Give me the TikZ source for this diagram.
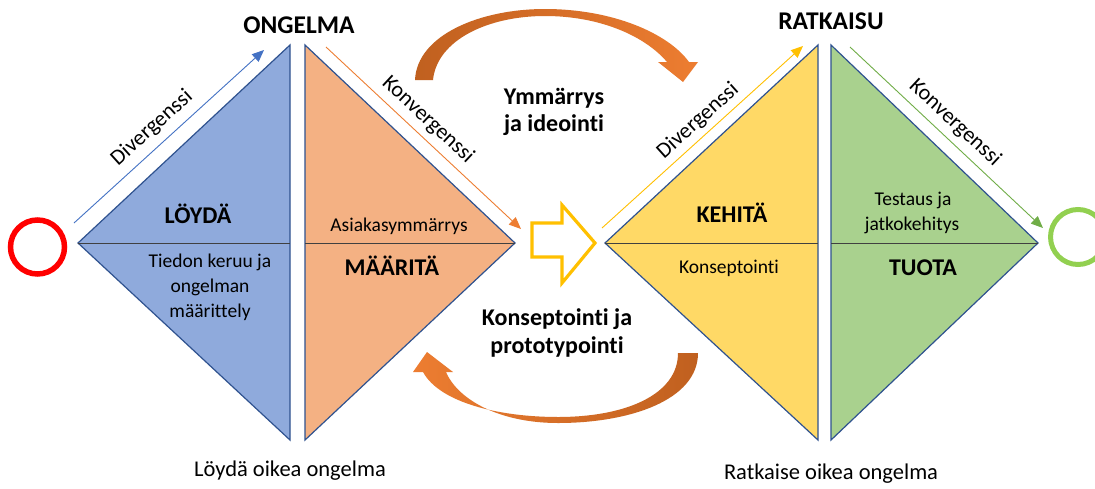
\documentclass[tikz,border=0pt]{standalone}
\usepackage{fontspec}
\setmainfont[Ligatures=NoCommon]{Carlito}
\usetikzlibrary{arrows.meta}
\definecolor{fblue}{HTML}{8FAADC}
\definecolor{forange}{HTML}{F4B183}
\definecolor{fyellow}{HTML}{FFD966}
\definecolor{fgreen}{HTML}{A9D18E}
\definecolor{edge}{HTML}{2F528F}
\definecolor{ablue}{HTML}{4472C4}
\definecolor{aorange}{HTML}{ED7D31}
\definecolor{adark}{HTML}{C0601F}
\definecolor{ayellow}{HTML}{FFC000}
\definecolor{agreen}{HTML}{70AD47}
\definecolor{cgreen}{HTML}{92D050}
\tikzset{
  tri/.style={draw=edge, line width=1.2pt, line join=miter},
  midline/.style={draw=black!75, line width=0.9pt},
  thin arrow/.style={line width=0.9pt, -{Triangle[length=12pt,width=10pt]}},
  head/.style={font=\fontsize{25.5}{25.5}\selectfont\bfseries, anchor=base, inner sep=0},
  big/.style={font=\fontsize{24}{24}\selectfont\bfseries, anchor=base, inner sep=0},
  small/.style={font=\fontsize{19.5}{19.5}\selectfont, anchor=base, inner sep=0},
  side/.style={font=\fontsize{22}{22}\selectfont, inner sep=0},
  foot/.style={font=\fontsize{22.5}{22.5}\selectfont, anchor=base, inner sep=0},
}
\begin{document}
\begin{tikzpicture}[x=1pt,y=-1pt]
\useasboundingbox[fill=white] (0,0) rectangle (1095,488);

% triangles
\coordinate (bL) at (78,243);  \coordinate (bT) at (290,45);  \coordinate (bB) at (290,440);
\coordinate (oT) at (305,45);  \coordinate (oB) at (305,440); \coordinate (oR) at (515,243);
\coordinate (yL) at (605,243); \coordinate (yT) at (818,45);  \coordinate (yB) at (818,440);
\coordinate (gT) at (831,45);  \coordinate (gB) at (831,440); \coordinate (gR) at (1038,243);

\path[tri, fill=fblue] (bL) -- (bT) -- (bB) -- cycle;
\path[tri, fill=forange] (oT) -- (oR) -- (oB) -- cycle;
\path[tri, fill=fyellow] (yL) -- (yT) -- (yB) -- cycle;
\path[tri, fill=fgreen] (gT) -- (gR) -- (gB) -- cycle;
\draw[midline] (bL) -- (290,243);
\draw[midline] (oR) -- (305,243);
\draw[midline] (yL) -- (818,243);
\draw[midline] (gR) -- (831,243);

% circles
\node[circle, draw=red, line width=5.5pt, minimum size=54pt, inner sep=0] (start) at (37.5,247) {};
\node[circle, draw=cgreen, line width=5pt, minimum size=55pt, inner sep=0] (goal) at (1078,237) {};

% thin arrows
\coordinate (a1s) at (74,223);  \coordinate (a1e) at (264,50);
\coordinate (a2s) at (326,47);  \coordinate (a2e) at (521,229);
\coordinate (a3s) at (602,228); \coordinate (a3e) at (803,46);
\coordinate (a4s) at (850,47);  \coordinate (a4e) at (1043,228);
\draw[thin arrow, ablue] (a1s) -- (a1e);
\draw[thin arrow, aorange] (a2s) -- (a2e);
\draw[thin arrow, ayellow] (a3s) -- (a3e);
\draw[thin arrow, agreen] (a4s) -- (a4e);

\node[side, rotate=42] (div1) at (152,128) {Divergenssi};
\node[side, rotate=-43] (kon1) at (428,120) {Konvergenssi};
\node[side, rotate=42] (div2) at (698,121) {Divergenssi};
\node[side, rotate=-43] (kon2) at (955,123) {Konvergenssi};

% hollow block arrow
\draw[ayellow, line width=3.2pt, line join=miter]
  (532,223) -- (562,223) -- (562,205) -- (595,243) -- (562,283) -- (562,257) -- (532,257) -- cycle;

% curved arrows
\shade[left color=adark, middle color=aorange, right color=aorange]
  (415,80) .. controls (417,35) and (480,9) .. (545,9)
  .. controls (612,9) and (668,33) .. (689,62)
  -- (698,62) -- (683,82) -- (658,62) -- (667,62)
  .. controls (645,36) and (600,16) .. (545,16)
  .. controls (488,16) and (437,40) .. (433,80) -- cycle;
\shade[left color=aorange, middle color=aorange, right color=adark]
  (698,353) .. controls (698,400) and (630,423) .. (558,423)
  .. controls (500,423) and (458,400) .. (446,372)
  -- (453,372) -- (427,352) -- (413,372) -- (423,372)
  .. controls (440,403) and (500,417) .. (558,417)
  .. controls (625,417) and (678,395) .. (678,353) -- cycle;

% headings
\node[head] (ongelma) at (299,33) {ONGELMA};
\node[head] (ratkaisu) at (831,29) {RATKAISU};

\node[big] (ymm1) at (554,104) {Ymmärrys};
\node[big] (ymm2) at (554,131) {ja ideointi};
\node[big] (kon3) at (557,325) {Konseptointi ja};
\node[big] (kon4) at (557,353) {prototypointi};

\node[big] (loyda) at (198,223) {LÖYDÄ};
\node[big] (maarita) at (392,275) {MÄÄRITÄ};
\node[big] (kehita) at (732,222) {KEHITÄ};
\node[big] (tuota) at (923,275) {TUOTA};

\node[small] (asiak) at (399,231) {Asiakasymmärrys};
\node[small] (tied1) at (210,267) {Tiedon keruu ja};
\node[small] (tied2) at (210,292) {ongelman};
\node[small] (tied3) at (210,317) {määrittely};
\node[small] (konsep) at (729,273) {Konseptointi};
\node[small] (test1) at (913,205) {Testaus ja};
\node[small] (test2) at (912,230) {jatkokehitys};

\node[foot] (foot1) at (290,476) {Löydä oikea ongelma};
\node[foot] (foot2) at (831,479) {Ratkaise oikea ongelma};
\end{tikzpicture}
\end{document}
